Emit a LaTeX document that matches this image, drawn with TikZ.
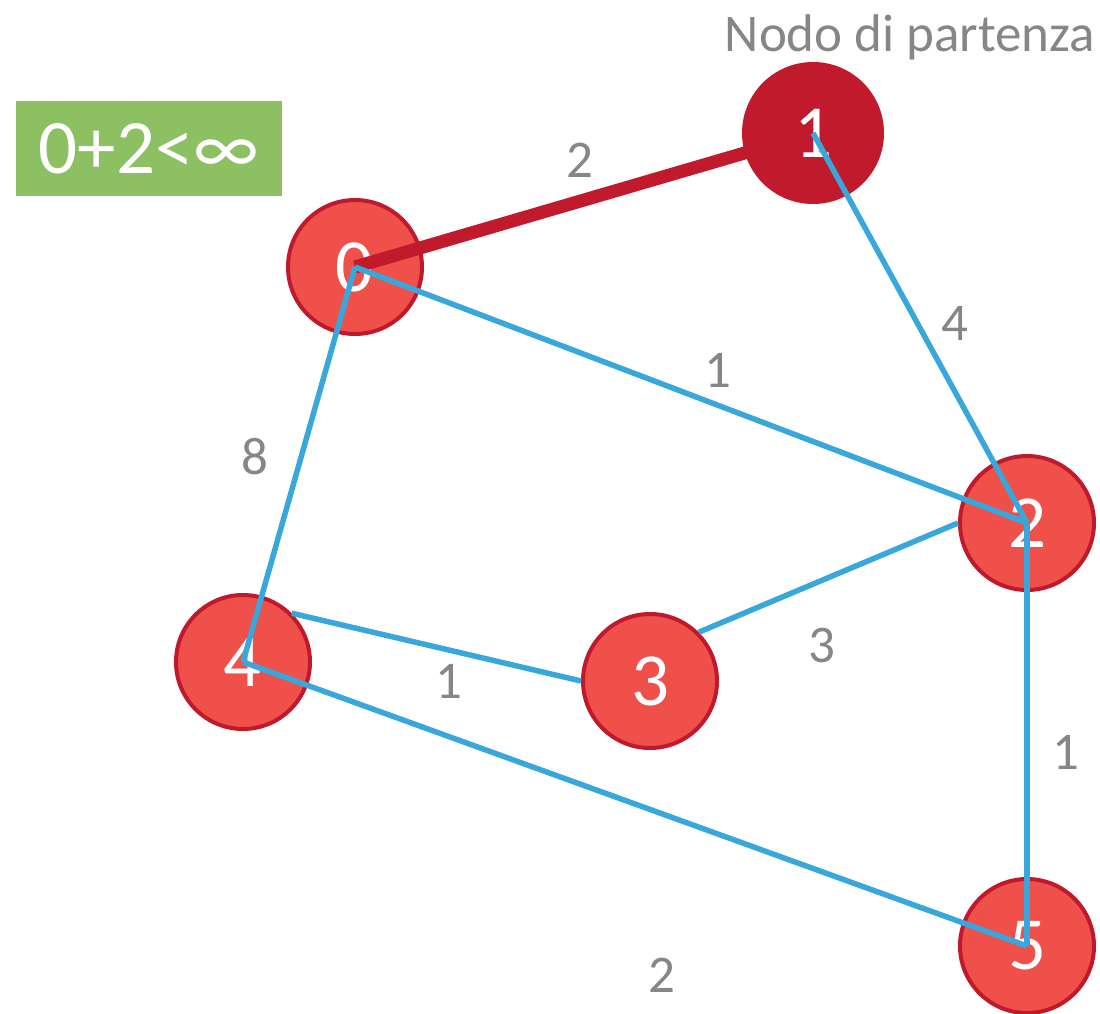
\documentclass[tikz,border=0pt]{standalone}
\usepackage{fontspec}
\setmainfont{Carlito}
\definecolor{nodefill}{HTML}{EF5049}
\definecolor{noderim}{HTML}{C0192C}
\definecolor{startfill}{HTML}{C21A2D}
\definecolor{edgeblue}{HTML}{38A7DB}
\definecolor{labgray}{HTML}{858787}
\definecolor{boxgreen}{HTML}{8CC063}
\tikzset{
  vert/.style={circle, minimum size=134pt, inner sep=0pt, fill=nodefill, draw=noderim, line width=4pt, text=white, font=\fontsize{75}{75}\selectfont},
  startvert/.style={vert, fill=startfill, draw=startfill},
  edge/.style={draw=edgeblue, line width=5.5pt},
  hotedge/.style={draw=startfill, line width=13pt},
  wlabel/.style={text=labgray, font=\fontsize{53}{53}\selectfont, inner sep=0pt},
  infobox/.style={fill=boxgreen, text=white, minimum width=266pt, minimum height=95pt, inner sep=0pt, font=\fontsize{77}{77}\selectfont}
}
\begin{document}
\begin{tikzpicture}[x=1pt,y=-1pt]
\useasboundingbox (0,0) rectangle (1100,1014);
% nodes
\node[vert] (n0) at (355,267) {0};
\node[startvert, minimum size=138pt] (n1) at (813,133) {1};
\node[vert] (n2) at (1027,523) {2};
\node[vert] (n3) at (650,681) {3};
\node[vert] (n4) at (243,662) {4};
\node[vert] (n5) at (1027,946) {5};
% edges
\draw[hotedge] (n0.center) -- (n1.center);
\draw[edge] (n1.center) -- (n2.center);
\draw[edge] (n0.center) -- (n2.center);
\draw[edge] (n0.center) -- (n4.center);
\draw[edge] (n4.45) -- (n3.west);
\draw[edge] (n3.45) -- (n2.west);
\draw[edge] (n4.center) -- (n5.center);
\draw[edge] (n2.center) -- (n5.center);
% weights
\node[wlabel] (w01) at (580,160) {2};
\node[wlabel] (w12) at (955,323) {4};
\node[wlabel] (w02) at (718,370) {1};
\node[wlabel] (w04) at (255,457) {8};
\node[wlabel] (w32) at (822,645) {3};
\node[wlabel] (w43) at (449,681) {1};
\node[wlabel] (w25) at (1066,752) {1};
\node[wlabel] (w45) at (662,975) {2};
% captions
\node[wlabel] (start) at (910,37) {Nodo di partenza};
\node[infobox] (info) at (149,148.5) {0+2<∞};
\end{tikzpicture}
\end{document}
